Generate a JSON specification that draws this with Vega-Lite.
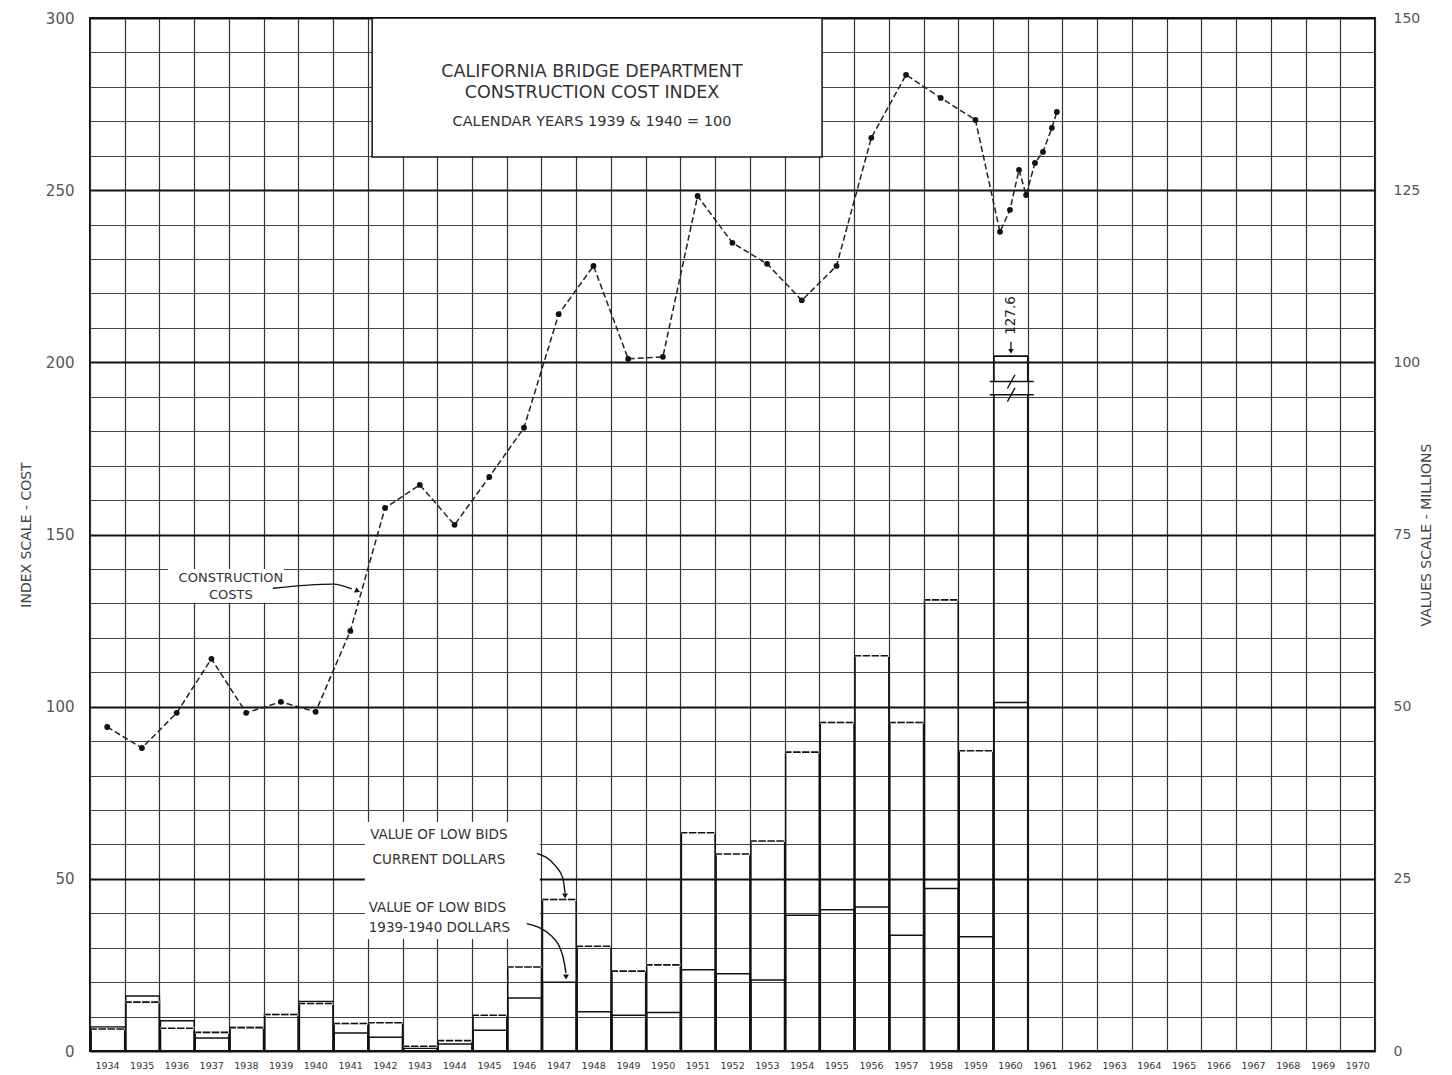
{
  "$schema": "https://vega.github.io/schema/vega-lite/v6.json",
  "width": 1285,
  "height": 1033,
  "autosize": {"type": "none"},
  "padding": {"left": 90, "top": 18, "right": 77, "bottom": 24},
  "background": "white",
  "config": {"view": {"stroke": "#111", "strokeWidth": 2}, "font": "DejaVu Sans"},
  "datasets": {
    "cost": [
      {"date": "1934-07-01", "index": 94.1}, {"date": "1935-07-01", "index": 88.0}, {"date": "1936-07-01", "index": 98.2},
      {"date": "1937-07-01", "index": 113.9}, {"date": "1938-07-01", "index": 98.2}, {"date": "1939-07-01", "index": 101.4},
      {"date": "1940-07-01", "index": 98.5}, {"date": "1941-07-01", "index": 122.0}, {"date": "1942-07-01", "index": 157.7},
      {"date": "1943-07-01", "index": 164.4}, {"date": "1944-07-01", "index": 152.8}, {"date": "1945-07-01", "index": 166.7},
      {"date": "1946-07-01", "index": 181.0}, {"date": "1947-07-01", "index": 214.0}, {"date": "1948-07-01", "index": 228.0},
      {"date": "1949-07-01", "index": 201.0}, {"date": "1950-07-01", "index": 201.6}, {"date": "1951-07-01", "index": 248.3},
      {"date": "1952-07-01", "index": 234.7}, {"date": "1953-07-01", "index": 228.6}, {"date": "1954-07-01", "index": 218.0},
      {"date": "1955-07-01", "index": 228.0}, {"date": "1956-07-01", "index": 265.2}, {"date": "1957-07-01", "index": 283.5},
      {"date": "1958-07-01", "index": 276.8}, {"date": "1959-07-01", "index": 270.4},
      {"date": "1960-03-15", "index": 237.9}, {"date": "1960-06-28", "index": 244.3}, {"date": "1960-10-01", "index": 255.9},
      {"date": "1960-12-15", "index": 248.6}, {"date": "1961-03-18", "index": 257.9}, {"date": "1961-06-10", "index": 261.1},
      {"date": "1961-09-12", "index": 268.1}, {"date": "1961-11-03", "index": 272.7}
    ],
    "bids": [
      {"year": "1934", "current": 3.2, "constant": 3.5}, {"year": "1935", "current": 7.1, "constant": 8.0},
      {"year": "1936", "current": 3.3, "constant": 4.4}, {"year": "1937", "current": 2.7, "constant": 1.9},
      {"year": "1938", "current": 3.4, "constant": 3.5}, {"year": "1939", "current": 5.3, "constant": 5.3},
      {"year": "1940", "current": 6.9, "constant": 7.2}, {"year": "1941", "current": 4.0, "constant": 2.6},
      {"year": "1942", "current": 4.1, "constant": 2.0}, {"year": "1943", "current": 0.7, "constant": 0.4},
      {"year": "1944", "current": 1.5, "constant": 1.0}, {"year": "1945", "current": 5.2, "constant": 3.0},
      {"year": "1946", "current": 12.2, "constant": 7.7}, {"year": "1947", "current": 22.0, "constant": 10.0},
      {"year": "1948", "current": 15.2, "constant": 5.7}, {"year": "1949", "current": 11.6, "constant": 5.2},
      {"year": "1950", "current": 12.5, "constant": 5.6}, {"year": "1951", "current": 31.7, "constant": 11.8},
      {"year": "1952", "current": 28.6, "constant": 11.2}, {"year": "1953", "current": 30.5, "constant": 10.3},
      {"year": "1954", "current": 43.4, "constant": 19.7}, {"year": "1955", "current": 47.7, "constant": 20.5},
      {"year": "1956", "current": 57.4, "constant": 20.9}, {"year": "1957", "current": 47.7, "constant": 16.8},
      {"year": "1958", "current": 65.5, "constant": 23.6}, {"year": "1959", "current": 43.6, "constant": 16.6},
      {"year": "1960", "current": 127.6, "constant": 50.6}
    ]
  },
  "resolve": {"scale": {"y": "independent"}},
  "layer": [
    {
      "layer": [
        {
          "data": {"name": "bids"},
          "mark": {"type": "bar", "filled": false, "stroke": "#111", "strokeWidth": 1.5},
          "encoding": {
            "x": {
              "field": "year", "timeUnit": "utcyear", "type": "temporal", "title": null,
              "scale": {"type": "utc", "nice": false, "domain": [{"year": 1934, "month": 1, "date": 1, "utc": true}, {"year": 1971, "month": 1, "date": 1, "utc": true}]},
              "axis": {
                "tickCount": {"interval": "year", "step": 1},
                "labelExpr": "utcyear(datum.value) > 1970 ? '' : utcFormat(datum.value, '%Y')",
                "labelOffset": 17, "labelPadding": 9, "labelFontSize": 9.5, "labelColor": "#333",
                "labelOverlap": false, "labelFlush": false, "labelBound": false,
                "ticks": false, "domain": false, "grid": true, "gridColor": "#333", "gridWidth": 1.2, "gridOpacity": 1
              }
            },
            "y": {
              "field": "constant", "type": "quantitative",
              "scale": {"domain": [0, 150], "nice": false},
              "axis": {
                "orient": "right", "title": "VALUES SCALE - MILLIONS", "values": [0, 25, 50, 75, 100, 125, 150],
                "grid": false, "ticks": false, "domain": false, "labelPadding": 18, "labelFontSize": 14, "labelColor": "#555",
                "titleFontSize": 14, "titleFontWeight": "normal", "titleColor": "#444", "titleAngle": 270, "titlePadding": 14
              }
            }
          }
        },
        {
          "data": {"name": "bids"},
          "transform": [{"filter": "datum.current < 120"}],
          "mark": {"type": "bar", "filled": false, "stroke": "#111", "strokeWidth": 1.5},
          "encoding": {
            "x": {"field": "year", "timeUnit": "utcyear", "type": "temporal", "title": null, "scale": {"type": "utc"}},
            "y": {"field": "current", "type": "quantitative"}
          }
        },
        {
          "data": {"name": "bids"},
          "transform": [{"filter": "datum.current < 120"}],
          "mark": {"type": "bar", "filled": false, "stroke": "white", "strokeWidth": 2.5},
          "encoding": {
            "x": {"field": "year", "timeUnit": "utcyear", "type": "temporal", "title": null, "scale": {"type": "utc"}},
            "y": {"field": "current", "type": "quantitative"},
            "y2": {"field": "current"}
          }
        },
        {
          "data": {"name": "bids"},
          "transform": [{"filter": "datum.current < 120"}],
          "mark": {"type": "bar", "filled": false, "stroke": "#111", "strokeWidth": 1.6, "strokeDash": [6, 3]},
          "encoding": {
            "x": {"field": "year", "timeUnit": "utcyear", "type": "temporal", "title": null, "scale": {"type": "utc"}},
            "y": {"field": "current", "type": "quantitative"},
            "y2": {"field": "current"}
          }
        },
        {
          "data": {"values": [{"year": "1960", "top": 100.9}]},
          "mark": {"type": "bar", "filled": false, "stroke": "#111", "strokeWidth": 1.6},
          "encoding": {
            "x": {"field": "year", "timeUnit": "utcyear", "type": "temporal", "title": null, "scale": {"type": "utc"}},
            "y": {"field": "top", "type": "quantitative"}
          }
        },
        {
          "data": {"values": [{"year": "1960", "lo": 95.3, "hi": 97.2}]},
          "mark": {"type": "bar", "color": "white"},
          "encoding": {
            "x": {"field": "year", "timeUnit": "utcyear", "type": "temporal", "title": null, "scale": {"type": "utc"}},
            "y": {"field": "hi", "type": "quantitative"},
            "y2": {"field": "lo"}
          }
        },
        {
          "data": {"values": [
            {"from": "1959-11-28", "to": "1961-03-05", "at": 97.2},
            {"from": "1959-11-28", "to": "1961-03-05", "at": 95.3}
          ]},
          "mark": {"type": "rule", "color": "#111", "strokeWidth": 1.5},
          "encoding": {
            "x": {"field": "from", "type": "temporal", "title": null, "scale": {"type": "utc"}},
            "x2": {"field": "to"},
            "y": {"field": "at", "type": "quantitative"}
          }
        },
        {
          "data": {"values": [
            {"x1": "1960-06-01", "x2": "1960-08-20", "y1": 96.2, "y2": 98.2},
            {"x1": "1960-06-01", "x2": "1960-08-20", "y1": 94.3, "y2": 96.3}
          ]},
          "mark": {"type": "rule", "color": "#111", "strokeWidth": 1.4},
          "encoding": {
            "x": {"field": "x1", "type": "temporal", "title": null, "scale": {"type": "utc"}},
            "x2": {"field": "x2"},
            "y": {"field": "y1", "type": "quantitative"},
            "y2": {"field": "y2"}
          }
        },
        {
          "data": {"values": [{"date": "1960-07-08", "at": 106.8, "label": "127.6", "from": 103.0, "to": 101.6}]},
          "layer": [
            {
              "mark": {"type": "text", "angle": 270, "fontSize": 13.5, "color": "#222", "baseline": "middle", "align": "center"},
              "encoding": {
                "x": {"field": "date", "type": "temporal", "title": null, "scale": {"type": "utc"}},
                "y": {"field": "at", "type": "quantitative"},
                "text": {"field": "label"}
              }
            },
            {
              "mark": {"type": "rule", "color": "#111", "strokeWidth": 1.3},
              "encoding": {
                "x": {"field": "date", "type": "temporal", "title": null, "scale": {"type": "utc"}},
                "y": {"field": "from", "type": "quantitative"},
                "y2": {"field": "to"}
              }
            },
            {
              "mark": {"type": "point", "shape": "triangle-down", "filled": true, "color": "#111", "size": 30, "opacity": 1},
              "encoding": {
                "x": {"field": "date", "type": "temporal", "title": null, "scale": {"type": "utc"}},
                "y": {"field": "to", "type": "quantitative"}
              }
            }
          ]
        }
      ]
    },
    {
      "layer": [
        {
          "data": {"name": "cost"},
          "mark": {"type": "line", "color": "#222", "strokeWidth": 1.5, "strokeDash": [6, 3]},
          "encoding": {
            "x": {"field": "date", "type": "temporal", "title": null, "scale": {"type": "utc"}},
            "y": {
              "field": "index", "type": "quantitative",
              "scale": {"domain": [0, 300], "nice": false},
              "axis": {
                "orient": "left", "title": "INDEX SCALE - COST",
                "tickCount": 40,
                "values": [0, 10, 20, 30, 40, 50, 60, 70, 80, 90, 100, 110, 120, 130, 140, 150, 160, 170, 180, 190, 200, 210, 220, 230, 240, 250, 260, 270, 280, 290, 300],
                "labelExpr": "datum.value % 50 === 0 ? datum.label : ''",
                "labelOverlap": false,
                "grid": true,
                "gridColor": {"condition": {"test": "datum.value % 50 === 0", "value": "#111"}, "value": "#444"},
                "gridWidth": {"condition": {"test": "datum.value % 50 === 0", "value": 2.2}, "value": 1.1},
                "gridOpacity": 1,
                "ticks": false, "domain": false, "labelPadding": 16, "labelFontSize": 15, "labelColor": "#555",
                "titleFontSize": 14, "titleFontWeight": "normal", "titleColor": "#444", "titlePadding": 12
              }
            }
          }
        },
        {
          "data": {"values": [{"x1": "1942-02-15", "x2": "1955-01-30", "y1": 259.6, "y2": 300}]},
          "mark": {"type": "rect", "fill": "white", "stroke": "#111", "strokeWidth": 1.5},
          "encoding": {
            "x": {"field": "x1", "type": "temporal", "title": null, "scale": {"type": "utc"}},
            "x2": {"field": "x2"},
            "y": {"field": "y1", "type": "quantitative"},
            "y2": {"field": "y2"}
          }
        },
        {
          "data": {"values": [
            {"x1": "1936-04-01", "x2": "1939-08-01", "y1": 130.2, "y2": 140.0},
            {"x1": "1941-12-01", "x2": "1946-12-15", "y1": 32.5, "y2": 66.5}
          ]},
          "mark": {"type": "rect", "fill": "white"},
          "encoding": {
            "x": {"field": "x1", "type": "temporal", "title": null, "scale": {"type": "utc"}},
            "x2": {"field": "x2"},
            "y": {"field": "y1", "type": "quantitative"},
            "y2": {"field": "y2"}
          }
        },
        {
          "data": {"values": [
            {"date": "1948-06-15", "y": 284.3, "text": "CALIFORNIA  BRIDGE  DEPARTMENT"},
            {"date": "1948-06-15", "y": 278.2, "text": "CONSTRUCTION  COST  INDEX"}
          ]},
          "mark": {"type": "text", "fontSize": 17.5, "color": "#333", "align": "center", "baseline": "middle"},
          "encoding": {
            "x": {"field": "date", "type": "temporal", "title": null, "scale": {"type": "utc"}},
            "y": {"field": "y", "type": "quantitative"},
            "text": {"field": "text"}
          }
        },
        {
          "data": {"values": [{"date": "1948-06-15", "y": 269.8, "text": "CALENDAR  YEARS  1939  &  1940 = 100"}]},
          "mark": {"type": "text", "fontSize": 14.5, "color": "#333", "align": "center", "baseline": "middle"},
          "encoding": {
            "x": {"field": "date", "type": "temporal", "title": null, "scale": {"type": "utc"}},
            "y": {"field": "y", "type": "quantitative"},
            "text": {"field": "text"}
          }
        },
        {
          "data": {"values": [
            {"date": "1938-01-22", "y": 137.3, "text": "CONSTRUCTION"},
            {"date": "1938-01-22", "y": 132.4, "text": "COSTS"}
          ]},
          "mark": {"type": "text", "fontSize": 13, "color": "#333", "align": "center", "baseline": "middle"},
          "encoding": {
            "x": {"field": "date", "type": "temporal", "title": null, "scale": {"type": "utc"}},
            "y": {"field": "y", "type": "quantitative"},
            "text": {"field": "text"}
          }
        },
        {
          "data": {"values": [
            {"date": "1942-01-25", "y": 62.7, "text": "VALUE OF LOW BIDS"},
            {"date": "1942-02-20", "y": 55.4, "text": "CURRENT DOLLARS"},
            {"date": "1942-01-10", "y": 41.4, "text": "VALUE OF LOW BIDS"},
            {"date": "1942-01-10", "y": 35.6, "text": "1939-1940 DOLLARS"}
          ]},
          "mark": {"type": "text", "fontSize": 13.5, "color": "#333", "align": "left", "baseline": "middle"},
          "encoding": {
            "x": {"field": "date", "type": "temporal", "title": null, "scale": {"type": "utc"}},
            "y": {"field": "y", "type": "quantitative"},
            "text": {"field": "text"}
          }
        },
        {
          "data": {"name": "cost"},
          "mark": {"type": "point", "filled": true, "color": "#111", "size": 34, "opacity": 1},
          "encoding": {
            "x": {"field": "date", "type": "temporal", "title": null, "scale": {"type": "utc"}},
            "y": {"field": "index", "type": "quantitative"}
          }
        },
        {
          "data": {"values": [
            {"arrow": "costs", "date": "1939-04-08", "y": 134.4},
            {"arrow": "costs", "date": "1941-01-01", "y": 135.6},
            {"arrow": "costs", "date": "1941-07-16", "y": 134.2},
            {"arrow": "current", "date": "1946-11-13", "y": 57.4},
            {"arrow": "current", "date": "1947-05-23", "y": 53.9},
            {"arrow": "current", "date": "1947-08-14", "y": 50.2},
            {"arrow": "current", "date": "1947-09-06", "y": 45.8},
            {"arrow": "constant", "date": "1946-07-30", "y": 37.0},
            {"arrow": "constant", "date": "1947-04-20", "y": 33.3},
            {"arrow": "constant", "date": "1947-08-14", "y": 27.5},
            {"arrow": "constant", "date": "1947-09-16", "y": 22.6}
          ]},
          "mark": {"type": "line", "color": "#111", "strokeWidth": 1.4, "interpolate": "monotone"},
          "encoding": {
            "x": {"field": "date", "type": "temporal", "title": null, "scale": {"type": "utc"}},
            "y": {"field": "y", "type": "quantitative"},
            "detail": {"field": "arrow"}
          }
        },
        {
          "data": {"values": [
            {"date": "1947-09-06", "y": 45.0},
            {"date": "1947-09-16", "y": 21.5}
          ]},
          "mark": {"type": "point", "shape": "triangle-down", "filled": true, "color": "#111", "size": 35, "opacity": 1},
          "encoding": {
            "x": {"field": "date", "type": "temporal", "title": null, "scale": {"type": "utc"}},
            "y": {"field": "y", "type": "quantitative"}
          }
        },
        {
          "data": {"values": [{"date": "1941-09-15", "y": 133.6}]},
          "mark": {"type": "point", "shape": "triangle-right", "angle": 25, "filled": true, "color": "#111", "size": 35, "opacity": 1},
          "encoding": {
            "x": {"field": "date", "type": "temporal", "title": null, "scale": {"type": "utc"}},
            "y": {"field": "y", "type": "quantitative"}
          }
        }
      ]
    }
  ]
}
